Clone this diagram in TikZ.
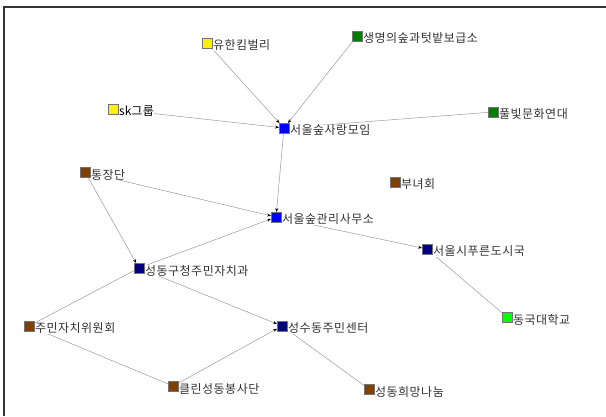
\documentclass[tikz,border=0pt]{standalone}
\usepackage{fontspec}
\newfontfamily\krfont[LetterSpace=4]{Noto Sans CJK KR}
\usepackage{tikz}
\usetikzlibrary{arrows.meta,backgrounds}
\usepackage{xcolor}

\definecolor{navyblue}{RGB}{0,0,128}
\definecolor{orgbrown}{RGB}{128,64,0}
\definecolor{darkgreen}{RGB}{0,128,0}
\definecolor{limegreen}{RGB}{0,255,0}

\begin{document}
\begin{tikzpicture}[
    x=1pt, y=-1pt,
    sq/.style={rectangle, draw=black!55, line width=0.4pt, minimum size=9.5pt, inner sep=0pt},
    lbl/.style={fill=white, inner sep=0.5pt, font=\krfont\fontsize{12}{13}\selectfont, text=black!80, anchor=west, yshift=-2.5pt},
    link/.style={draw=black!40, line width=0.5pt},
    arr/.style={link, -{Stealth[length=4pt,width=3pt,color=black]}},
    label distance=0.5pt,
]
    \useasboundingbox (0,0) rectangle (606,416);
    \draw[black!80, line width=1.2pt] (4,416) -- (4,7) -- (606,7);

    % nodes
    \node[sq, fill=yellow, label={[lbl]east:유한킴벌리}] (yuhan) at (207,43) {};
    \node[sq, fill=darkgreen, label={[lbl]east:생명의숲과텃밭보급소}] (saengmyeong) at (357,36) {};
    \node[sq, fill=yellow, label={[lbl, text=black]east:{\addfontfeature{LetterSpace=0}sk}그룹}] (sk) at (113,109) {};
    \node[sq, fill=blue, label={[lbl]east:서울숲사랑모임}] (sarang) at (284,128) {};
    \node[sq, fill=darkgreen, label={[lbl]east:풀빛문화연대}] (pulbit) at (493,112) {};
    \node[sq, fill=orgbrown, label={[lbl]east:통장단}] (tongjang) at (85,172) {};
    \node[sq, fill=orgbrown, label={[lbl]east:부녀회}] (bunyeo) at (395,182) {};
    \node[sq, fill=blue, label={[lbl]east:서울숲관리사무소}] (gwanri) at (276,217) {};
    \node[sq, fill=navyblue, label={[lbl]east:서울시푸른도시국}] (pureun) at (427,249) {};
    \node[sq, fill=navyblue, label={[lbl]east:성동구청주민자치과}] (guchung) at (139,268) {};
    \node[sq, fill=orgbrown, label={[lbl]east:주민자치위원회}] (jumin) at (29,326) {};
    \node[sq, fill=navyblue, label={[lbl]east:성수동주민센터}] (seongsu) at (282,326) {};
    \node[sq, fill=limegreen, label={[lbl]east:동국대학교}] (dongguk) at (507,317) {};
    \node[sq, fill=orgbrown, label={[lbl]east:클린성동봉사단}] (clean) at (173,386) {};
    \node[sq, fill=orgbrown, label={[lbl]east:성동희망나눔}] (huimang) at (369,389) {};

    % links
    \begin{scope}[on background layer]
        \draw[arr] (yuhan) -- (sarang);
        \draw[arr] (saengmyeong) -- (sarang);
        \draw[arr] (sk) -- (sarang);
        \draw[link] (pulbit) -- (sarang);
        \draw[arr] (sarang) -- (gwanri);
        \draw[arr] (tongjang) -- (gwanri);
        \draw[arr] (guchung) -- (gwanri);
        \draw[arr] (gwanri) -- (pureun);
        \draw[link] (pureun) -- (dongguk);
        \draw[arr] (tongjang) -- (guchung);
        \draw[link] (jumin) -- (guchung);
        \draw[arr] (guchung) -- (seongsu);
        \draw[link] (jumin) -- (clean);
        \draw[arr] (clean) -- (seongsu);
        \draw[link] (seongsu) -- (huimang);
    \end{scope}
\end{tikzpicture}
\end{document}
